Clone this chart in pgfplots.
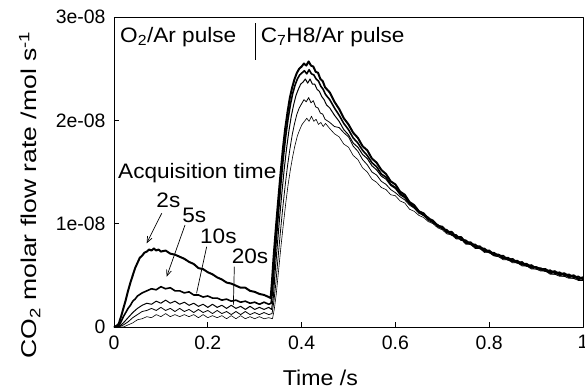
\documentclass[border=0pt]{standalone}
\usepackage{pgfplots}
\pgfplotsset{compat=1.18}
\usepackage{fontspec}
\setmainfont{Liberation Sans}
\newfontfamily\annfont{Liberation Sans}[FakeStretch=1.08]
\newfontfamily\ylabfont{Liberation Sans}[FakeStretch=1.24]
\usetikzlibrary{arrows.meta}
\begin{document}
% y values in units of 1e-08 mol/s
\begin{tikzpicture}
\begin{axis}[name=ax, scale only axis, width=469bp, height=310bp,
  xmin=0, xmax=1, ymin=0, ymax=3,
  xtick={0,0.2,0.4,0.6,0.8,1}, xticklabels={0,0.2,0.4,0.6,0.8,1},
  ytick={0,1,2,3}, yticklabels={0,1e-08,2e-08,3e-08},
  tick align=inside, xtick pos=bottom, ytick pos=left,
  major tick length=5bp,
  axis line style={line width=0.9pt}, every tick/.style={line width=0.9pt, black},
  tick label style={font=\fontsize{19.5}{23}\selectfont},
  xticklabel style={yshift=-5bp},
  yticklabel style={xshift=-5bp},
  xlabel={Time /s},
  ylabel={CO\textsubscript{2} molar flow rate /mol s\textsuperscript{-1}},
  every axis x label/.style={at={(rel axis cs:0.44,0)}, anchor=base, yshift=-58bp, font=\annfont\fontsize{21.5}{25}\selectfont},
  every axis y label/.style={at={(rel axis cs:-0.1642,0.426)}, anchor=base, rotate=90, font=\ylabfont\fontsize{21.5}{25}\selectfont},
  line join=round, clip=true]
% 2s
\addplot[black, line width=2.0pt] coordinates {
(0,0) (0.005,0.01) (0.01,0.03) (0.015,0.10) (0.02,0.18) (0.025,0.26) (0.03,0.35) (0.035,0.43) (0.04,0.50) (0.045,0.57)
(0.05,0.62) (0.055,0.67) (0.06,0.69) (0.065,0.72) (0.07,0.73) (0.075,0.75) (0.08,0.74) (0.085,0.76) (0.09,0.74) (0.095,0.75)
(0.10,0.73) (0.11,0.74) (0.12,0.71) (0.13,0.70) (0.14,0.68) (0.15,0.66) (0.16,0.63) (0.17,0.61) (0.18,0.57) (0.19,0.56)
(0.20,0.53) (0.21,0.51) (0.22,0.48) (0.23,0.46) (0.24,0.43) (0.25,0.42) (0.26,0.40) (0.27,0.38) (0.28,0.38) (0.29,0.35)
(0.30,0.34) (0.31,0.32) (0.32,0.31) (0.33,0.29) (0.334,0.28)
(0.337,0.45) (0.34,0.66) (0.345,0.95) (0.35,1.22) (0.355,1.48) (0.36,1.72) (0.365,1.92) (0.37,2.08) (0.375,2.22) (0.38,2.32)
(0.385,2.40) (0.39,2.46) (0.395,2.50) (0.40,2.52) (0.405,2.55) (0.41,2.53) (0.415,2.57) (0.42,2.53) (0.425,2.52) (0.43,2.47)
(0.435,2.46) (0.44,2.40) (0.445,2.38) (0.45,2.32) (0.46,2.27) (0.47,2.18) (0.48,2.11) (0.49,2.02) (0.50,1.96) (0.51,1.88)
(0.52,1.83) (0.53,1.75) (0.54,1.71) (0.55,1.63) (0.56,1.59) (0.57,1.52) (0.58,1.48) (0.59,1.41) (0.60,1.38) (0.61,1.31)
(0.62,1.28) (0.63,1.21) (0.64,1.18) (0.65,1.12) (0.66,1.10) (0.67,1.05) (0.68,1.03) (0.69,0.98) (0.70,0.97) (0.71,0.92)
(0.72,0.92) (0.73,0.87) (0.74,0.87) (0.75,0.82) (0.76,0.82) (0.77,0.78) (0.78,0.78) (0.79,0.74) (0.80,0.74) (0.81,0.70)
(0.82,0.70) (0.83,0.67) (0.84,0.67) (0.85,0.64) (0.86,0.64) (0.87,0.61) (0.88,0.61) (0.89,0.58) (0.90,0.58) (0.91,0.56)
(0.92,0.56) (0.93,0.53) (0.94,0.54) (0.95,0.51) (0.96,0.52) (0.97,0.49) (0.98,0.50) (0.99,0.47) (1.00,0.48)};
% 5s
\addplot[black, line width=1.6pt] coordinates {
(0,0) (0.01,0.01) (0.015,0.05) (0.02,0.10) (0.025,0.14) (0.03,0.18) (0.035,0.21) (0.04,0.25) (0.045,0.27) (0.05,0.30)
(0.06,0.33) (0.07,0.35) (0.08,0.37) (0.09,0.36) (0.10,0.39) (0.11,0.37) (0.12,0.38) (0.13,0.35) (0.14,0.35) (0.15,0.33)
(0.16,0.34) (0.17,0.31) (0.18,0.31) (0.19,0.29) (0.20,0.30) (0.21,0.28) (0.22,0.28) (0.23,0.26) (0.24,0.27) (0.25,0.25)
(0.26,0.26) (0.27,0.24) (0.28,0.25) (0.29,0.23) (0.30,0.24) (0.31,0.22) (0.32,0.24) (0.33,0.22) (0.335,0.23)
(0.338,0.35) (0.341,0.55) (0.346,0.85) (0.351,1.13) (0.356,1.40) (0.361,1.64) (0.366,1.84) (0.371,2.01) (0.376,2.15) (0.381,2.26)
(0.386,2.34) (0.391,2.40) (0.396,2.44) (0.401,2.46) (0.406,2.48) (0.411,2.45) (0.416,2.49) (0.421,2.45) (0.426,2.44) (0.431,2.40)
(0.436,2.38) (0.441,2.33) (0.446,2.30) (0.451,2.25) (0.46,2.20) (0.47,2.12) (0.48,2.05) (0.49,1.97) (0.50,1.91) (0.51,1.83)
(0.52,1.78) (0.53,1.71) (0.54,1.66) (0.55,1.59) (0.56,1.55) (0.57,1.48) (0.58,1.45) (0.59,1.38) (0.60,1.35) (0.61,1.29)
(0.62,1.26) (0.63,1.20) (0.64,1.16) (0.65,1.12) (0.66,1.08) (0.67,1.06) (0.68,1.01) (0.69,0.99) (0.70,0.95) (0.71,0.94)
(0.72,0.89) (0.73,0.89) (0.74,0.84) (0.75,0.84) (0.76,0.80) (0.77,0.80) (0.78,0.76) (0.79,0.76) (0.80,0.72) (0.81,0.72)
(0.82,0.69) (0.83,0.69) (0.84,0.65) (0.85,0.66) (0.86,0.62) (0.87,0.63) (0.88,0.59) (0.89,0.60) (0.90,0.57) (0.91,0.57)
(0.92,0.54) (0.93,0.55) (0.94,0.52) (0.95,0.53) (0.96,0.50) (0.97,0.51) (0.98,0.48) (0.99,0.49) (1.00,0.46)};
% 10s
\addplot[black, line width=1.0pt] coordinates {
(0,0) (0.01,0.00) (0.02,0.04) (0.03,0.09) (0.04,0.14) (0.05,0.18) (0.06,0.21) (0.07,0.23) (0.08,0.22) (0.09,0.25)
(0.10,0.23) (0.11,0.26) (0.12,0.23) (0.13,0.25) (0.14,0.22) (0.15,0.24) (0.16,0.21) (0.17,0.23) (0.18,0.20) (0.19,0.22)
(0.20,0.19) (0.21,0.22) (0.22,0.19) (0.23,0.21) (0.24,0.18) (0.25,0.21) (0.26,0.18) (0.27,0.20) (0.28,0.17) (0.29,0.20)
(0.30,0.17) (0.31,0.19) (0.32,0.17) (0.33,0.19) (0.336,0.17)
(0.34,0.30) (0.343,0.50) (0.348,0.78) (0.353,1.05) (0.358,1.30) (0.363,1.53) (0.368,1.73) (0.373,1.90) (0.378,2.04) (0.383,2.15)
(0.388,2.24) (0.393,2.30) (0.398,2.35) (0.403,2.37) (0.408,2.40) (0.413,2.36) (0.418,2.40) (0.423,2.35) (0.428,2.35) (0.433,2.30)
(0.438,2.28) (0.443,2.23) (0.448,2.20) (0.453,2.15) (0.46,2.12) (0.47,2.05) (0.48,1.99) (0.49,1.91) (0.50,1.86) (0.51,1.78)
(0.52,1.74) (0.53,1.67) (0.54,1.63) (0.55,1.56) (0.56,1.52) (0.57,1.46) (0.58,1.43) (0.59,1.37) (0.60,1.34) (0.61,1.28)
(0.62,1.25) (0.63,1.19) (0.64,1.16) (0.65,1.11) (0.66,1.09) (0.67,1.04) (0.68,1.02) (0.69,0.97) (0.70,0.96) (0.71,0.91)
(0.72,0.91) (0.73,0.86) (0.74,0.86) (0.75,0.81) (0.76,0.81) (0.77,0.77) (0.78,0.77) (0.79,0.73) (0.80,0.73) (0.81,0.69)
(0.82,0.70) (0.83,0.66) (0.84,0.66) (0.85,0.63) (0.86,0.63) (0.87,0.60) (0.88,0.60) (0.89,0.57) (0.90,0.58) (0.91,0.55)
(0.92,0.55) (0.93,0.52) (0.94,0.53) (0.95,0.50) (0.96,0.51) (0.97,0.48) (0.98,0.49) (0.99,0.46) (1.00,0.47)};
% 20s
\addplot[black, line width=0.8pt] coordinates {
(0,0) (0.01,0.00) (0.02,0.02) (0.03,0.05) (0.04,0.09) (0.05,0.12) (0.06,0.15) (0.07,0.16) (0.08,0.18) (0.09,0.16)
(0.10,0.19) (0.11,0.16) (0.12,0.18) (0.13,0.15) (0.14,0.18) (0.15,0.15) (0.16,0.17) (0.17,0.14) (0.18,0.17) (0.19,0.14)
(0.20,0.16) (0.21,0.13) (0.22,0.16) (0.23,0.13) (0.24,0.15) (0.25,0.12) (0.26,0.15) (0.27,0.12) (0.28,0.15) (0.29,0.12)
(0.30,0.14) (0.31,0.12) (0.32,0.14) (0.33,0.12) (0.337,0.13)
(0.341,0.25) (0.345,0.42) (0.35,0.68) (0.355,0.93) (0.36,1.16) (0.365,1.37) (0.37,1.56) (0.375,1.72) (0.38,1.86) (0.385,1.97)
(0.39,2.06) (0.395,2.12) (0.40,2.16) (0.405,2.20) (0.41,2.18) (0.415,2.22) (0.42,2.17) (0.425,2.19) (0.43,2.13) (0.435,2.12)
(0.44,2.07) (0.445,2.06) (0.45,2.01) (0.46,1.98) (0.47,1.94) (0.48,1.93) (0.49,1.88) (0.50,1.84) (0.51,1.75) (0.52,1.70)
(0.53,1.62) (0.54,1.57) (0.55,1.50) (0.56,1.47) (0.57,1.41) (0.58,1.38) (0.59,1.33) (0.60,1.30) (0.61,1.26) (0.62,1.23)
(0.63,1.18) (0.64,1.15) (0.65,1.10) (0.66,1.08) (0.67,1.03) (0.68,1.01) (0.69,0.97) (0.70,0.95) (0.71,0.91) (0.72,0.90)
(0.73,0.86) (0.74,0.85) (0.75,0.81) (0.76,0.80) (0.77,0.77) (0.78,0.76) (0.79,0.73) (0.80,0.72) (0.81,0.69) (0.82,0.68)
(0.83,0.66) (0.84,0.65) (0.85,0.63) (0.86,0.62) (0.87,0.60) (0.88,0.59) (0.89,0.57) (0.90,0.56) (0.91,0.55) (0.92,0.54)
(0.93,0.52) (0.94,0.51) (0.95,0.50) (0.96,0.49) (0.97,0.48) (0.98,0.47) (0.99,0.46) (1.00,0.45)};
% lowest trace
\addplot[black, line width=0.6pt] coordinates {
(0,0) (0.02,0.00) (0.03,0.02) (0.04,0.04) (0.05,0.07) (0.06,0.08) (0.07,0.10) (0.08,0.09) (0.09,0.12) (0.10,0.10)
(0.11,0.13) (0.12,0.10) (0.13,0.12) (0.14,0.10) (0.15,0.12) (0.16,0.10) (0.17,0.12) (0.18,0.09) (0.19,0.12) (0.20,0.09)
(0.21,0.11) (0.22,0.09) (0.23,0.11) (0.24,0.08) (0.25,0.11) (0.26,0.08) (0.27,0.11) (0.28,0.08) (0.29,0.10) (0.30,0.08)
(0.31,0.10) (0.32,0.08) (0.33,0.09) (0.338,0.08)
(0.342,0.18) (0.346,0.32) (0.351,0.55) (0.356,0.78) (0.361,0.99) (0.366,1.19) (0.371,1.37) (0.376,1.52) (0.381,1.65) (0.386,1.76)
(0.391,1.85) (0.396,1.91) (0.401,1.96) (0.406,1.99) (0.411,2.02) (0.416,1.99) (0.421,2.04) (0.426,1.99) (0.431,2.01) (0.436,1.96)
(0.441,1.98) (0.446,1.94) (0.451,1.97) (0.46,1.92) (0.47,1.87) (0.48,1.84) (0.49,1.77) (0.50,1.74) (0.51,1.66) (0.52,1.62)
(0.53,1.54) (0.54,1.50) (0.55,1.43) (0.56,1.40) (0.57,1.35) (0.58,1.33) (0.59,1.28) (0.60,1.27) (0.61,1.22) (0.62,1.20)
(0.63,1.14) (0.64,1.12) (0.65,1.08) (0.66,1.06) (0.67,1.02) (0.68,1.00) (0.69,0.96) (0.70,0.94) (0.71,0.90) (0.72,0.89)
(0.73,0.85) (0.74,0.85) (0.75,0.80) (0.76,0.80) (0.77,0.76) (0.78,0.76) (0.79,0.72) (0.80,0.72) (0.81,0.69) (0.82,0.68)
(0.83,0.65) (0.84,0.65) (0.85,0.62) (0.86,0.62) (0.87,0.59) (0.88,0.59) (0.89,0.56) (0.90,0.56) (0.91,0.54) (0.92,0.54)
(0.93,0.51) (0.94,0.51) (0.95,0.49) (0.96,0.49) (0.97,0.47) (0.98,0.47) (0.99,0.45) (1.00,0.45)};
% annotations
\begin{scope}[every node/.style={font=\annfont\fontsize{21}{25}\selectfont, inner sep=0pt}]
\node[anchor=base west] at (axis cs:0.0128,2.75) {O\textsubscript{2}/Ar pulse};
\node[anchor=base west] at (axis cs:0.3127,2.75) {C\textsubscript{7}H8/Ar pulse};
\node[anchor=west] at (axis cs:0.0085,1.49) {Acquisition time};
\node at (axis cs:0.116,1.23) {2s};
\node at (axis cs:0.171,1.084) {5s};
\node at (axis cs:0.2226,0.874) {10s};
\node at (axis cs:0.29,0.68) {20s};
\end{scope}
\draw[line width=0.8pt] (axis cs:0.3006,2.94) -- (axis cs:0.3006,2.58);
\draw[line width=0.7pt, -{Straight Barb[length=6bp,width=5bp]}] (axis cs:0.1017,1.10) -- (axis cs:0.0697,0.81);
\draw[line width=0.7pt, -{Straight Barb[length=6bp,width=5bp]}] (axis cs:0.1514,0.987) -- (axis cs:0.1123,0.487);
\draw[line width=0.7pt] (axis cs:0.1976,0.777) -- (axis cs:0.176,0.326);
\draw[line width=0.7pt] (axis cs:0.2566,0.584) -- (axis cs:0.2545,0.213);
\end{axis}
\pgfresetboundingbox
\path[use as bounding box] ([xshift=-114bp,yshift=-61bp]ax.south west) rectangle ([xshift=2bp,yshift=17bp]ax.north east);
\end{tikzpicture}
\end{document}
